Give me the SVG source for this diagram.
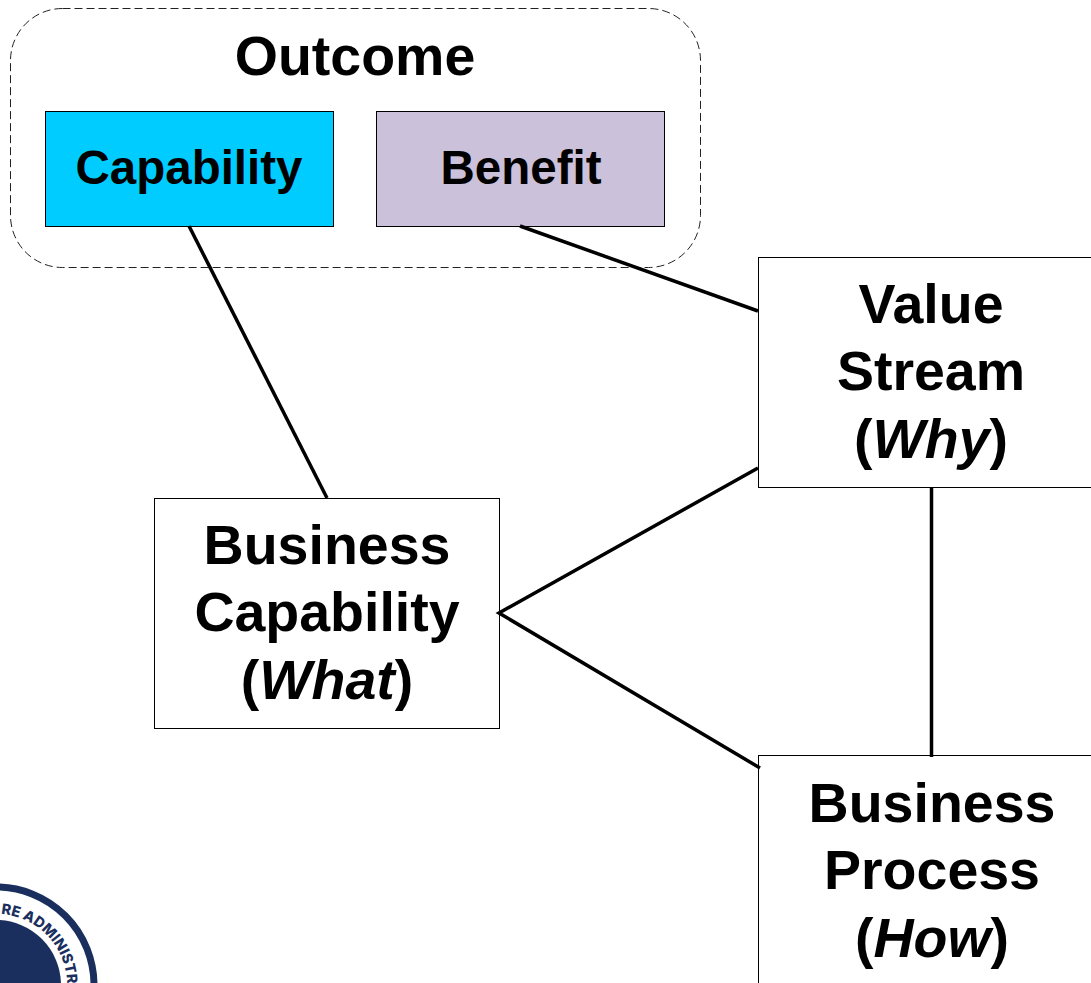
<svg xmlns="http://www.w3.org/2000/svg" width="1091" height="983" viewBox="0 0 1091 983">
<style>
text{font-family:"Liberation Sans",Arial,sans-serif;font-weight:700;fill:#000;text-anchor:middle}
.big{font-size:55.500px}
.mid{font-size:47.500px}
.box{fill:#fff;stroke:#000;stroke-width:1}
.wire{stroke:#000;stroke-width:3.500;fill:none}
</style>
<defs><path id="sealArc" d="M1 914A71 71 0 0 1 67 985"/></defs>
<rect width="1091" height="983" fill="#fff"/>
<g id="outcome">
<rect x="10.500" y="8.500" width="690" height="259" rx="52" fill="#fff" stroke="#222" stroke-width="1" stroke-dasharray="8 4"/>
<text class="big" x="355" y="75">Outcome</text>
</g>
<g id="capability">
<rect x="45.500" y="111.500" width="288" height="115" fill="#00ccff" stroke="#000" stroke-width="1"/>
<text class="mid" x="189" y="184">Capability</text>
</g>
<g id="benefit">
<rect x="376.500" y="111.500" width="288" height="115" fill="#ccc1da" stroke="#000" stroke-width="1"/>
<text class="mid" x="521" y="184">Benefit</text>
</g>
<g id="value-stream">
<rect class="box" x="758.500" y="257.500" width="345" height="230"/>
<text class="big" x="931" y="323">Value</text>
<text class="big" x="931" y="390">Stream</text>
<text class="big" x="931" y="458">(<tspan font-style="italic">Why</tspan>)</text>
</g>
<g id="business-capability">
<rect class="box" x="154.500" y="498.500" width="345" height="230"/>
<text class="big" x="327" y="564">Business</text>
<text class="big" x="327" y="631">Capability</text>
<text class="big" x="327" y="699">(<tspan font-style="italic">What</tspan>)</text>
</g>
<g id="business-process">
<rect class="box" x="758.500" y="755.500" width="345" height="240"/>
<text class="big" x="932" y="822">Business</text>
<text class="big" x="932" y="889">Process</text>
<text class="big" x="932" y="957">(<tspan font-style="italic">How</tspan>)</text>
</g>
<g id="connectors">
<path class="wire" d="M189 226L327 498"/>
<path class="wire" d="M520 226L758 311"/>
<path class="wire" d="M758 468L499 613L760 768"/>
<path class="wire" d="M931.500 487V757"/>
</g>
<g id="seal">
<circle cx="-4" cy="985" r="98" fill="none" stroke="#1b2f5e" stroke-width="7"/>
<circle cx="-4" cy="985" r="65" fill="#1b2f5e"/>
<text font-size="14.500" style="fill:#1b2f5e;font-family:Inter,'Liberation Sans',sans-serif;text-anchor:start;font-weight:800"><textPath href="#sealArc" startOffset="0">RE ADMINISTR</textPath></text>
</g>
</svg>
